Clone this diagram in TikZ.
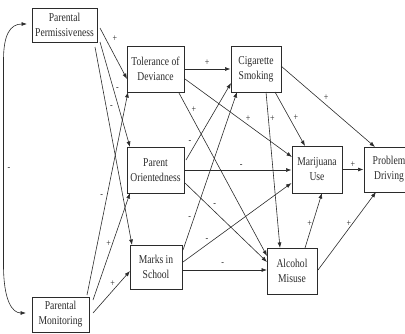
\documentclass[tikz,border=0pt]{standalone}
\usepackage{fontspec}
\setmainfont{Liberation Serif}[FakeStretch=0.8]
\usetikzlibrary{arrows.meta}
\definecolor{ink}{HTML}{2B2B2B}
\begin{document}
\begin{tikzpicture}[x=1pt,y=-1pt,
  box/.style={draw=ink, line width=1pt, inner sep=0pt, align=center, text=ink,
              font=\fontsize{12}{15}\selectfont},
  link/.style={draw=ink, line width=0.6pt, -{Latex[length=5.5pt,width=4pt]}},
  lab/.style={text=ink, font=\fontsize{10}{10}\selectfont, inner sep=0pt}]
\useasboundingbox (0,0) rectangle (405,333);

% variables
\node[box, minimum width=65pt, minimum height=34pt] (PP) at (64.5,25)  {Parental\\Permissiveness};
\node[box, minimum width=57pt, minimum height=35pt] (PM) at (60.5,314.5) {Parental\\Monitoring};
\node[box, minimum width=57pt, minimum height=46pt] (TD) at (155.5,69)  {Tolerance of\\Deviance};
\node[box, minimum width=57pt, minimum height=46pt] (PO) at (155.5,170) {Parent\\Orientedness};
\node[box, minimum width=52pt, minimum height=44pt] (MS) at (156,267)   {Marks in\\School};
\node[box, minimum width=50pt, minimum height=46pt] (CS) at (256,69)    {Cigarette\\Smoking};
\node[box, minimum width=50pt, minimum height=47pt] (MU) at (317,169.5) {Marijuana\\Use};
\node[box, minimum width=50pt, minimum height=46pt] (AM) at (292,271)   {Alcohol\\Misuse};
\node[box, minimum width=50pt, minimum height=45pt] (PD) at (389,169.5) {Problem\\Driving};

% correlation between the two parenting measures
\draw[ink, line width=0.6pt, {Latex[length=5.5pt,width=4pt]}-{Latex[length=5.5pt,width=4pt]}]
  ([shift={(-37.5,-1)}]PP.center) .. controls (10,24) and (3.5,35) .. (3.5,60)
  -- node[lab, pos=0.53, shift={(5.5,0)}] (c0) {-} (3.5,265)
  .. controls (3.5,300) and (12,313) .. ([shift={(-34.5,-1.5)}]PM.center);

% parenting -> mediators
\draw[link] ([shift={(35.5,3)}]PP.center) -- ([shift={(-28.5,10)}]TD.center)
  node[lab, pos=.29, shift={(7,-4)}] (l1) {+};
\draw[link] ([shift={(35.5,17)}]PP.center) -- ([shift={(-25.5,-23)}]PO.center)
  node[lab, pos=.45, shift={(4,0)}] (l2) {-};
\draw[link] ([shift={(30.5,22)}]PP.center) -- ([shift={(-24,-22)}]MS.center)
  node[lab, pos=.31, shift={(5,-1)}] (l3) {-};
\draw[link] ([shift={(26.5,-19.5)}]PM.center) -- ([shift={(-27.5,23)}]TD.center)
  node[lab, pos=.48, shift={(-5,-1)}] (l4) {-};
\draw[link] ([shift={(32.5,-14.5)}]PM.center) -- ([shift={(-25.5,23)}]PO.center)
  node[lab, pos=.53, shift={(-4,0)}] (l5) {+};
\draw[link] ([shift={(32.5,-1.5)}]PM.center) -- ([shift={(-26,4)}]MS.center)
  node[lab, pos=.69, shift={(-6,0)}] (l6) {+};

% mediators -> substance use
\draw[link] (TD.east) -- (CS.west)
  node[lab, pos=.49, shift={(0,-6)}] (l7) {+};
\draw[link] ([shift={(29.5,10)}]TD.center) -- ([shift={(-25,-12.5)}]MU.center)
  node[lab, pos=.59, shift={(0,-6)}] (l8) {+};
\draw[link] ([shift={(23.5,24)}]TD.center) -- ([shift={(-25,-15)}]AM.center)
  node[lab, pos=.10, shift={(6,0)}] (l9) {+};
\draw[link] ([shift={(30.5,-10)}]PO.center) -- ([shift={(-25,14)}]CS.center)
  node[lab, pos=.23, shift={(-6.5,0)}] (l10) {-};
\draw[link] (PO.east) -- (PO.east -| MU.west)
  node[lab, pos=.53, shift={(0,-4)}] (l11) {-};
\draw[link] ([shift={(29.5,13)}]PO.center) -- ([shift={(-25,-9)}]AM.center)
  node[lab, pos=.35, shift={(1,-6)}] (l12) {-};
\draw[link] ([shift={(27,-17)}]MS.center) -- ([shift={(-19,23)}]CS.center)
  node[lab, pos=.20, shift={(-4,0)}] (l13) {-};
\draw[link] ([shift={(27,-5)}]MS.center) -- ([shift={(-25.5,13.5)}]MU.center)
  node[lab, pos=.22, shift={(0,-4.5)}] (l14) {-};
\draw[link] ([shift={(26,3)}]MS.center) -- ([shift={(-25,-1)}]AM.center)
  node[lab, pos=.48, shift={(0,-6)}] (l15) {-};

% substance use -> problem driving
\draw[link] ([shift={(19,23)}]CS.center) -- ([shift={(-12,-23.5)}]MU.center)
  node[lab, pos=.48, shift={(6.5,0)}] (l16) {+};
\draw[link] ([shift={(10,23)}]CS.center) -- ([shift={(-12,-23)}]AM.center)
  node[lab, pos=.17, shift={(4,0)}] (l17) {+};
\draw[link] ([shift={(25,-3)}]CS.center) -- ([shift={(-14,-22.5)}]PD.center)
  node[lab, pos=.48, shift={(0,-7)}] (l18) {+};
\draw[link] (MU.east) -- (MU.east -| PD.west)
  node[lab, pos=.5, shift={(0,-5)}] (l19) {+};
\draw[link] ([shift={(13,-23)}]AM.center) -- ([shift={(5,23.5)}]MU.center)
  node[lab, pos=.45, shift={(-3,0)}] (l20) {+};
\draw[link] ([shift={(26,-1)}]AM.center) -- ([shift={(-13,22.5)}]PD.center)
  node[lab, pos=.60, shift={(-4,0)}] (l21) {+};
\end{tikzpicture}
\end{document}
